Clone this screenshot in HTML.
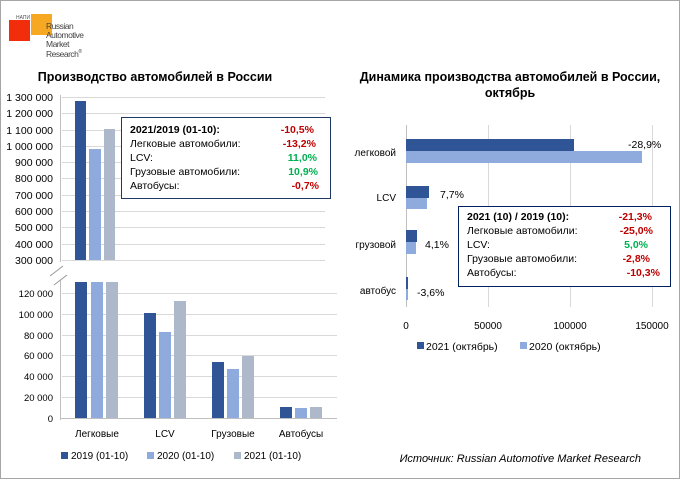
<!DOCTYPE html>
<html><head><meta charset="utf-8"><style>
body{margin:0;background:#fff}
svg{display:block;font-family:"Liberation Sans",Arial,sans-serif}
</style></head><body>
<svg width="680" height="479" viewBox="0 0 680 479" xmlns="http://www.w3.org/2000/svg">
<rect x="0.5" y="0.5" width="679" height="478" fill="#fff" stroke="#a6a6a6"/>
<!-- logo -->
<rect x="31" y="14" width="21" height="21" fill="#f7a823"/>
<rect x="9" y="20" width="21" height="21" fill="#f22d0c"/>
<text x="16" y="19" font-size="5" fill="#555">НАПИ</text>
<g font-size="8.5" fill="#444" style="letter-spacing:-0.5px">
<text x="46" y="29">Russian</text><text x="46" y="38">Automotive</text><text x="46" y="47">Market</text><text x="46" y="57">Research<tspan font-size="5" dy="-4">®</tspan></text>
</g>
<text x="155" y="81" font-size="12.5" font-weight="bold" text-anchor="middle" fill="#000">Производство автомобилей в России</text>
<!-- upper grid -->
<g stroke="#d9d9d9" stroke-width="1">
<line x1="62" x2="325" y1="97.5" y2="97.5"/><line x1="62" x2="325" y1="113.5" y2="113.5"/><line x1="62" x2="325" y1="130.5" y2="130.5"/><line x1="62" x2="325" y1="146.5" y2="146.5"/><line x1="62" x2="325" y1="162.5" y2="162.5"/><line x1="62" x2="325" y1="178.5" y2="178.5"/><line x1="62" x2="325" y1="195.5" y2="195.5"/><line x1="62" x2="325" y1="211.5" y2="211.5"/><line x1="62" x2="325" y1="227.5" y2="227.5"/><line x1="62" x2="325" y1="244.5" y2="244.5"/><line x1="62" x2="325" y1="260.5" y2="260.5"/>
<line x1="62" x2="337" y1="293.5" y2="293.5"/><line x1="62" x2="337" y1="314.5" y2="314.5"/><line x1="62" x2="337" y1="335.5" y2="335.5"/><line x1="62" x2="337" y1="355.5" y2="355.5"/><line x1="62" x2="337" y1="376.5" y2="376.5"/><line x1="62" x2="337" y1="397.5" y2="397.5"/>
</g>
<line x1="60.5" x2="60.5" y1="95" y2="262" stroke="#bfbfbf"/>
<line x1="60.5" x2="60.5" y1="280" y2="420" stroke="#bfbfbf"/>
<line x1="60" x2="337" y1="418.5" y2="418.5" stroke="#bfbfbf"/>
<line x1="50" x2="63" y1="276" y2="266" stroke="#999"/><line x1="54" x2="67" y1="285" y2="275" stroke="#999"/>
<g font-size="10.5" fill="#000" text-anchor="end">
<text x="53" y="101">1 300 000</text><text x="53" y="117">1 200 000</text><text x="53" y="134">1 100 000</text><text x="53" y="150">1 000 000</text><text x="53" y="166">900 000</text><text x="53" y="182">800 000</text><text x="53" y="199">700 000</text><text x="53" y="215">600 000</text><text x="53" y="231">500 000</text><text x="53" y="248">400 000</text><text x="53" y="264">300 000</text>
</g>
<g font-size="9.5" fill="#000" text-anchor="end">
<text x="53" y="297">120 000</text><text x="53" y="318">100 000</text><text x="53" y="339">80 000</text><text x="53" y="359">60 000</text><text x="53" y="380">40 000</text><text x="53" y="401">20 000</text><text x="53" y="422">0</text>
</g>
<rect x="75" y="101" width="11" height="159" fill="#2f5597"/>
<rect x="89" y="149" width="12" height="111" fill="#8faadc"/>
<rect x="104" y="129" width="11" height="131" fill="#adb9ca"/>
<rect x="75" y="282" width="12" height="136" fill="#2f5597"/><rect x="91" y="282" width="12" height="136" fill="#8faadc"/><rect x="106" y="282" width="12" height="136" fill="#adb9ca"/>
<rect x="144" y="313" width="12" height="105" fill="#2f5597"/><rect x="159" y="332" width="12" height="86" fill="#8faadc"/><rect x="174" y="301" width="12" height="117" fill="#adb9ca"/>
<rect x="212" y="362" width="12" height="56" fill="#2f5597"/><rect x="227" y="369" width="12" height="49" fill="#8faadc"/><rect x="242" y="356" width="12" height="62" fill="#adb9ca"/>
<rect x="280" y="407" width="12" height="11" fill="#2f5597"/><rect x="295" y="408" width="12" height="10" fill="#8faadc"/><rect x="310" y="407" width="12" height="11" fill="#adb9ca"/>
<g font-size="10" fill="#000" text-anchor="middle">
<text x="97" y="437">Легковые</text><text x="165" y="437">LCV</text><text x="233" y="437">Грузовые</text><text x="301" y="437">Автобусы</text>
</g>
<g font-size="10" fill="#000">
<rect x="61" y="452" width="7" height="7" fill="#2f5597"/><text x="71" y="459">2019 (01-10)</text>
<rect x="147" y="452" width="7" height="7" fill="#8faadc"/><text x="157" y="459">2020 (01-10)</text>
<rect x="234" y="452" width="7" height="7" fill="#adb9ca"/><text x="244" y="459">2021 (01-10)</text>
</g>
<rect x="121.5" y="117.5" width="209" height="81" fill="#fff" stroke="#1f3864"/>
<g font-size="10.5" fill="#000">
<text x="130" y="133" font-weight="bold">2021/2019 (01-10):</text><text x="130" y="147">Легковые автомобили:</text><text x="130" y="161">LCV:</text><text x="130" y="175">Грузовые автомобили:</text><text x="130" y="189">Автобусы:</text>
</g>
<g font-size="10.5" font-weight="bold" text-anchor="end">
<text x="314" y="133" fill="#c00000">-10,5%</text><text x="316" y="147" fill="#c00000">-13,2%</text><text x="317" y="161" fill="#00b050">11,0%</text><text x="318" y="175" fill="#00b050">10,9%</text><text x="319" y="189" fill="#c00000">-0,7%</text>
</g>
<!-- right chart -->
<text x="510" y="81" font-size="12.5" font-weight="bold" text-anchor="middle">Динамика производства автомобилей в России,</text>
<text x="510" y="97" font-size="12.5" font-weight="bold" text-anchor="middle">октябрь</text>
<g stroke="#d9d9d9"><line x1="488.5" x2="488.5" y1="125" y2="307"/><line x1="570.5" x2="570.5" y1="125" y2="307"/><line x1="652.5" x2="652.5" y1="125" y2="307"/></g>
<line x1="406.5" x2="406.5" y1="125" y2="307" stroke="#bfbfbf"/>
<rect x="406" y="139" width="168" height="12" fill="#2f5597"/><rect x="406" y="151" width="236" height="12" fill="#8faadc"/>
<rect x="406" y="186" width="23" height="12" fill="#2f5597"/><rect x="406" y="198" width="21" height="11" fill="#8faadc"/>
<rect x="406" y="230" width="11" height="12" fill="#2f5597"/><rect x="406" y="242" width="10" height="12" fill="#8faadc"/>
<rect x="406" y="277" width="2" height="12" fill="#2f5597"/><rect x="406" y="289" width="2" height="11" fill="#8faadc"/>
<g font-size="10" text-anchor="end">
<text x="396" y="156">легковой</text><text x="396" y="201">LCV</text><text x="396" y="248">грузовой</text><text x="396" y="294">автобус</text>
</g>
<g font-size="10.5">
<text x="628" y="148">-28,9%</text><text x="440" y="198">7,7%</text><text x="425" y="248">4,1%</text><text x="417" y="296">-3,6%</text>
</g>
<g font-size="10" text-anchor="middle"><text x="406" y="329">0</text><text x="488" y="329">50000</text><text x="570" y="329">100000</text><text x="652" y="329">150000</text></g>
<g font-size="10.5">
<rect x="417" y="342" width="7" height="7" fill="#2f5597"/><text x="426" y="350">2021 (октябрь)</text>
<rect x="520" y="342" width="7" height="7" fill="#8faadc"/><text x="529" y="350">2020 (октябрь)</text>
</g>
<rect x="458.5" y="206.5" width="212" height="80" fill="#fff" stroke="#002060"/>
<g font-size="10.5">
<text x="467" y="220" font-weight="bold">2021 (10) / 2019 (10):</text><text x="467" y="234">Легковые автомобили:</text><text x="467" y="248">LCV:</text><text x="467" y="262">Грузовые автомобили:</text><text x="467" y="276">Автобусы:</text>
</g>
<g font-size="10.5" font-weight="bold" text-anchor="end">
<text x="652" y="220" fill="#c00000">-21,3%</text><text x="653" y="234" fill="#c00000">-25,0%</text><text x="648" y="248" fill="#00b050">5,0%</text><text x="650" y="262" fill="#c00000">-2,8%</text><text x="660" y="276" fill="#c00000">-10,3%</text>
</g>
<text x="641" y="462" font-size="11" font-style="italic" text-anchor="end">Источник: Russian Automotive Market Research</text>
</svg>
</body></html>
